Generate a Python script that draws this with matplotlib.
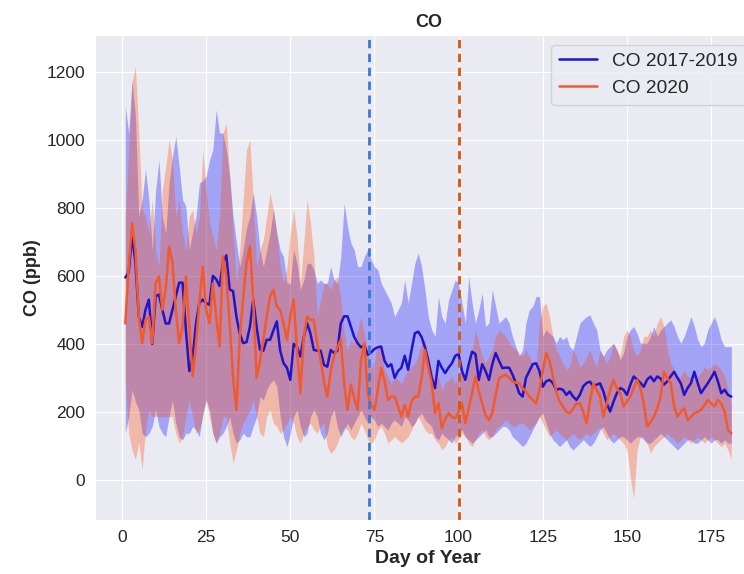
import numpy as np
import matplotlib
matplotlib.use("Agg")
import matplotlib.pyplot as plt
import seaborn as sns

days = np.arange(1, 182)

co_base_mean = [
    595, 610, 720, 640, 480, 450, 500, 530, 400, 540,
    545, 500, 460, 460, 500, 540, 580, 580, 440, 320,
    360, 460, 520, 530, 520, 515, 600, 590, 570, 637,
    660, 560, 555, 480, 430, 402, 405, 450, 530, 450,
    383, 380, 412, 412, 440, 466, 380, 343, 330, 294,
    400, 390, 363, 420, 461, 430, 382, 380, 380, 338,
    333, 382, 373, 380, 460, 481, 481, 451, 420, 402,
    390, 395, 368, 375, 385, 390, 392, 350, 333, 340,
    300, 320, 330, 365, 324, 380, 431, 436, 420, 390,
    350, 300, 270, 350, 330, 314, 330, 343, 365, 370,
    320, 294, 340, 377, 370, 294, 340, 320, 294, 340,
    373, 350, 329, 330, 330, 310, 284, 255, 245, 300,
    320, 340, 343, 320, 274, 290, 294, 285, 265, 268,
    265, 250, 260, 245, 235, 250, 275, 285, 289, 275,
    280, 284, 260, 225, 201, 230, 255, 270, 265, 250,
    280, 304, 295, 285, 274, 295, 304, 290, 304, 298,
    280, 290, 305, 318, 300, 284, 250, 270, 284, 318,
    285, 255, 270, 284, 300, 318, 290, 255, 265, 250,
    245,
]
co_base_low = [
    137, 186, 265, 230, 206, 137, 127, 137, 157, 206,
    157, 137, 127, 186, 235, 167, 127, 118, 137, 137,
    157, 147, 127, 196, 235, 206, 137, 108, 127, 137,
    157, 186, 137, 108, 118, 137, 127, 127, 157, 186,
    245, 235, 265, 284, 294, 275, 186, 127, 98, 137,
    186, 206, 157, 127, 137, 186, 206, 186, 137, 118,
    137, 186, 206, 157, 127, 147, 167, 147, 167, 186,
    206, 186, 167, 186, 176, 157, 167, 157, 147, 167,
    176, 167, 157, 186, 176, 157, 167, 186, 196, 176,
    167, 157, 127, 118, 137, 127, 118, 108, 127, 137,
    147, 127, 118, 108, 118, 127, 137, 147, 127, 127,
    137, 147, 157, 157, 147, 127, 118, 108, 98, 108,
    127, 147, 167, 186, 196, 167, 137, 118, 108, 98,
    108, 118, 98, 88, 98, 108, 118, 108, 98, 108,
    127, 147, 157, 137, 118, 108, 118, 127, 127, 118,
    108, 118, 127, 127, 118, 108, 108, 118, 127, 137,
    127, 118, 108, 98, 88, 98, 108, 118, 118, 108,
    108, 118, 127, 118, 108, 118, 118, 108, 118, 108,
    108,
]
co_base_high = [
    1098, 1020, 1176, 1069, 775, 824, 912, 824, 676, 850,
    941, 775, 725, 873, 950, 1010, 922, 824, 804, 676,
    730, 775, 873, 880, 892, 940, 971, 1088, 1020, 1020,
    971, 892, 775, 700, 627, 676, 740, 775, 843, 775,
    676, 627, 676, 725, 794, 725, 676, 657, 578, 578,
    676, 637, 559, 588, 637, 637, 618, 578, 588, 578,
    578, 627, 588, 578, 657, 813, 745, 696, 676, 627,
    627, 657, 676, 647, 627, 618, 578, 559, 539, 520,
    480, 500, 520, 588, 520, 578, 637, 667, 627, 559,
    480, 441, 422, 539, 480, 461, 529, 559, 588, 578,
    520, 461, 598, 520, 461, 500, 549, 451, 461, 559,
    510, 461, 471, 480, 461, 422, 392, 363, 382, 461,
    500, 510, 539, 539, 422, 441, 431, 422, 402, 422,
    412, 422, 392, 382, 422, 461, 471, 480, 485, 461,
    441, 382, 363, 382, 392, 402, 382, 353, 373, 422,
    441, 451, 431, 402, 402, 402, 422, 451, 422, 441,
    451, 461, 471, 451, 422, 402, 422, 451, 480, 451,
    412, 392, 402, 441, 461, 480, 451, 412, 392, 392,
    392,
]

co_2020_mean = [
    460, 627, 755, 676, 480, 402, 470, 480, 402, 578,
    598, 500, 560, 686, 640, 500, 402, 450, 598, 450,
    304, 400, 520, 627, 500, 460, 578, 480, 392, 657,
    598, 461, 300, 206, 422, 530, 640, 686, 530, 300,
    350, 412, 480, 540, 559, 510, 500, 460, 412, 480,
    530, 382, 255, 420, 480, 470, 470, 400, 353, 290,
    245, 320, 363, 390, 412, 284, 206, 280, 240, 206,
    350, 402, 255, 220, 206, 265, 330, 290, 235, 245,
    245, 215, 186, 220, 186, 230, 245, 245, 300, 382,
    330, 284, 196, 225, 152, 180, 196, 185, 181, 200,
    225, 167, 210, 255, 304, 260, 225, 190, 176, 196,
    250, 299, 305, 309, 300, 289, 286, 284, 270, 260,
    245, 235, 225, 265, 320, 373, 350, 304, 260, 230,
    216, 200, 196, 210, 225, 225, 200, 167, 230, 284,
    265, 245, 186, 225, 265, 294, 270, 255, 216, 230,
    245, 270, 294, 270, 225, 157, 170, 186, 210, 245,
    318, 300, 284, 216, 186, 200, 210, 176, 185, 196,
    200, 206, 220, 235, 225, 216, 235, 225, 200, 147,
    137,
]
co_2020_low = [
    284, 137, 88, 60, 110, 30, 150, 206, 186, 186,
    186, 186, 186, 186, 186, 137, 108, 127, 186, 235,
    186, 137, 147, 186, 235, 186, 137, 108, 137, 186,
    186, 108, 50, 88, 137, 167, 186, 206, 235, 186,
    137, 127, 186, 206, 167, 157, 137, 147, 167, 186,
    167, 127, 108, 137, 157, 167, 147, 137, 157, 167,
    98, 78, 88, 108, 137, 157, 147, 127, 118, 137,
    167, 147, 118, 108, 118, 147, 157, 137, 108, 118,
    127, 118, 108, 118, 127, 147, 167, 186, 167, 147,
    137, 137, 118, 108, 88, 98, 118, 127, 108, 118,
    137, 127, 108, 98, 118, 137, 147, 127, 118, 127,
    147, 157, 167, 176, 167, 157, 157, 167, 167, 157,
    147, 157, 167, 186, 167, 147, 127, 137, 147, 137,
    127, 118, 127, 137, 127, 118, 127, 137, 127, 137,
    147, 157, 137, 118, 127, 137, 127, 118, 108, 88,
    10, -55, 88, 127, 127, 108, 78, 98, 108, 118,
    127, 137, 127, 118, 108, 118, 127, 118, 108, 118,
    127, 118, 108, 118, 127, 118, 108, 98, 108, 88,
    60,
]
co_2020_high = [
    775, 971, 1167, 1216, 1020, 794, 775, 725, 824, 676,
    627, 853, 922, 1000, 941, 775, 824, 725, 676, 775,
    794, 725, 775, 971, 853, 755, 716, 676, 775, 1020,
    1049, 892, 735, 578, 676, 824, 971, 1000, 824, 627,
    676, 706, 775, 843, 794, 725, 627, 578, 627, 725,
    794, 716, 578, 696, 824, 755, 657, 480, 529, 578,
    578, 559, 588, 598, 529, 431, 382, 412, 402, 441,
    480, 431, 382, 324, 353, 402, 382, 324, 304, 284,
    304, 294, 284, 304, 324, 333, 343, 363, 402, 412,
    363, 324, 284, 304, 265, 284, 294, 304, 284, 294,
    324, 284, 333, 382, 441, 402, 363, 343, 363, 382,
    422, 441, 431, 422, 402, 392, 382, 373, 363, 382,
    363, 343, 324, 461, 510, 520, 480, 422, 382, 363,
    343, 324, 333, 382, 363, 333, 343, 363, 382, 353,
    333, 382, 363, 343, 363, 402, 382, 363, 422, 441,
    422, 382, 363, 382, 422, 422, 441, 422, 461, 480,
    451, 382, 343, 324, 304, 304, 324, 304, 304, 294,
    304, 314, 333, 324, 333, 343, 333, 324, 304, 265,
    225,
]

lockdown_days = [73.3, 100.2]

sns.set_style("darkgrid")
plt.rcParams['font.family'] = ['Liberation Sans', 'DejaVu Sans']

fig = plt.figure(figsize=(7.44, 5.74), dpi=100)
ax = fig.add_axes([0.1277, 0.094, 0.896, 0.845])

ax.fill_between(days, co_base_low, co_base_high, color='blue', alpha=0.3, linewidth=0)
ax.fill_between(days, co_2020_low, co_2020_high, color='orangered', alpha=0.3, linewidth=0)
ax.plot(days, co_base_mean, color='#1f14c8', linewidth=1.8, label='CO 2017-2019')
ax.plot(days, co_2020_mean, color='#f2592b', linewidth=1.8, label='CO 2020')

ax.axvline(lockdown_days[0], color='#3a78d8', linestyle='--', linewidth=2, dashes=(3, 2))
ax.axvline(lockdown_days[1], color='#d4580a', linestyle='--', linewidth=2, dashes=(3, 2))

ax.set_ylim(-118, 1308)
ax.set_xticks([0, 25, 50, 75, 100, 125, 150, 175])
ax.set_yticks([0, 200, 400, 600, 800, 1000, 1200])
ax.tick_params(labelsize=12.5)
ax.set_xlabel("Day of Year", fontsize=14, fontweight='bold')
ax.set_ylabel("CO (ppb)", fontsize=13, fontweight='bold')
ax.set_title("CO", fontsize=13, fontweight='bold')

ax.legend(loc='upper left', bbox_to_anchor=(0.7406, 0.9216), bbox_transform=fig.transFigure,
          borderaxespad=0, fontsize=13.8, facecolor='#eaeaf2')

fig.savefig("out.png", dpi=100)
